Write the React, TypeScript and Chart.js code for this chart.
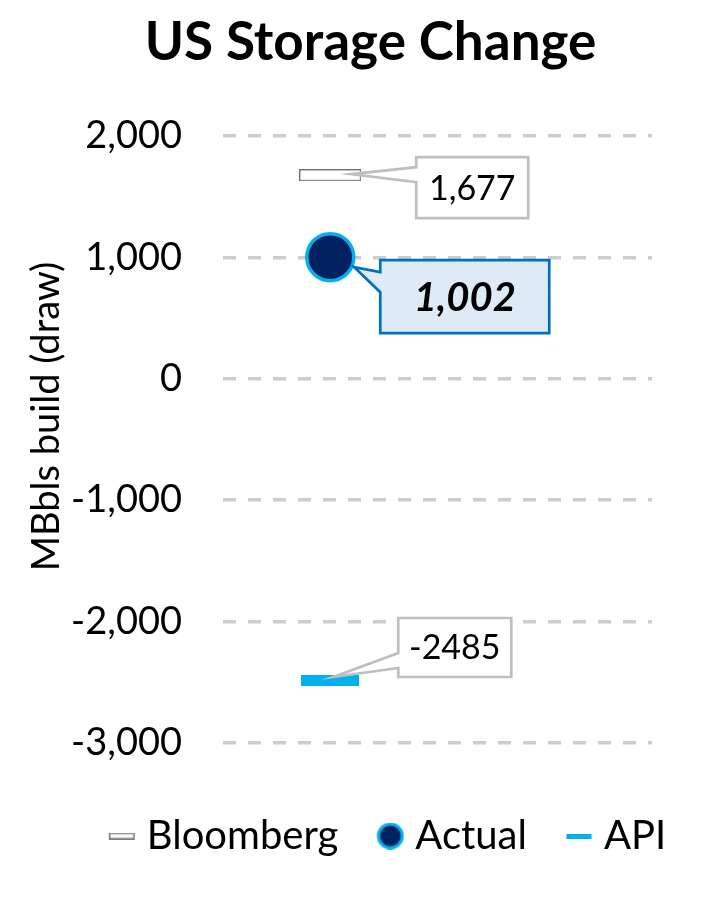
import React, { useEffect, useRef } from "react";
import { Chart, registerables } from "chart.js";

Chart.register(...registerables);

const categories = ["", ""];
const seriesNames = ["Bloomberg", "Actual", "API"];
const bloombergValues = [1677, null];
const actualValues = [1002, null];
const apiValues = [-2485, null];
const calloutLabels = ["1,677", "1,002", "-2485"];
const chartTitle = "US Storage Change";
const yAxisTitle = "MBbls build (draw)";
const yTickMin = -3000;
const yTickMax = 2000;
const yTickStep = 1000;

const FONT = "Lato";

function makeRectIcon(w: number, h: number, fill: string, stroke: string | null, lw: number, canvasW = w, cx = w / 2) {
  const c = document.createElement("canvas");
  c.width = canvasW;
  c.height = h;
  const ctx = c.getContext("2d")!;
  const x0 = cx - w / 2;
  ctx.fillStyle = fill;
  ctx.fillRect(x0, 0, w, h);
  if (stroke) {
    ctx.strokeStyle = stroke;
    ctx.lineWidth = lw;
    ctx.strokeRect(x0 + lw / 2, lw / 2, w - lw, h - lw);
  }
  return c;
}

function makeCircleIcon(d: number, fill: string, stroke: string, lw: number, canvasW = d, cx = d / 2) {
  const c = document.createElement("canvas");
  c.width = canvasW;
  c.height = d;
  const ctx = c.getContext("2d")!;
  ctx.beginPath();
  ctx.arc(cx, d / 2, d / 2 - lw / 2, 0, Math.PI * 2);
  ctx.fillStyle = fill;
  ctx.fill();
  ctx.lineWidth = lw;
  ctx.strokeStyle = stroke;
  ctx.stroke();
  return c;
}

type Callout = {
  dx: number;
  dy: number;
  w: number;
  h: number;
  tipDx: number;
  tipDy: number;
  base1: number;
  base2: number;
  fill: string;
  stroke: string;
  lw: number;
  font: string;
};

const callouts: Callout[] = [
  { dx: 86, dy: -18, w: 112, h: 61, tipDx: 21, tipDy: -1, base1: 10, base2: 25, fill: "#FFFFFF", stroke: "#BFBFBF", lw: 2.7, font: `34px ${FONT}` },
  { dx: 50, dy: 3, w: 169, h: 73, tipDx: 24, tipDy: 10, base1: 12, base2: 32, fill: "#DEEBF7", stroke: "#0070C0", lw: 2.7, font: `italic bold 40px ${FONT}` },
  { dx: 68, dy: -62.5, w: 113, h: 59, tipDx: 3, tipDy: -3.5, base1: 35, base2: 50, fill: "#FFFFFF", stroke: "#BFBFBF", lw: 2.7, font: `34px ${FONT}` },
];

const calloutPlugin = {
  id: "callouts",
  afterDatasetsDraw(chart: any) {
    const ctx = chart.ctx as CanvasRenderingContext2D;
    callouts.forEach((co, i) => {
      const meta = chart.getDatasetMeta(i);
      const pt = meta.data[0];
      if (!pt) return;
      const L = pt.x + co.dx;
      const T = pt.y + co.dy;
      const tx = pt.x + co.tipDx;
      const ty = pt.y + co.tipDy;
      ctx.save();
      ctx.beginPath();
      ctx.moveTo(L, T);
      ctx.lineTo(L + co.w, T);
      ctx.lineTo(L + co.w, T + co.h);
      ctx.lineTo(L, T + co.h);
      ctx.lineTo(L, T + co.base2);
      ctx.lineTo(tx, ty);
      ctx.lineTo(L, T + co.base1);
      ctx.closePath();
      ctx.fillStyle = co.fill;
      ctx.fill();
      ctx.lineWidth = co.lw;
      ctx.strokeStyle = co.stroke;
      ctx.lineJoin = "miter";
      ctx.stroke();
      ctx.fillStyle = "#000000";
      ctx.font = co.font;
      ctx.textAlign = "center";
      ctx.textBaseline = "middle";
      ctx.fillText(calloutLabels[i], L + co.w / 2, T + co.h / 2 + 1);
      ctx.restore();
    });
  },
};

const yTitlePlugin = {
  id: "yTitle",
  afterDraw(chart: any) {
    const ctx = chart.ctx as CanvasRenderingContext2D;
    const area = chart.chartArea;
    ctx.save();
    ctx.translate(47, (area.top + area.bottom) / 2 - 23);
    ctx.rotate(-Math.PI / 2);
    ctx.font = `38px ${FONT}`;
    ctx.fillStyle = "#000000";
    ctx.textAlign = "center";
    ctx.textBaseline = "middle";
    ctx.fillText(yAxisTitle, 0, 0);
    ctx.restore();
  },
};

export default function App() {
  const ref = useRef<HTMLCanvasElement | null>(null);

  useEffect(() => {
    document.body.style.margin = "0";
    const canvas = ref.current!;
    const bbgPoint = makeRectIcon(62, 12, "#FFFFFF", "#6F6F6F", 1.2);
    const apiPoint = makeRectIcon(58, 11, "#00B0F0", null, 0);
    const legendIcons = [
      makeRectIcon(26, 7, "#FFFFFF", "#7F7F7F", 1.6, 70, 56),
      makeCircleIcon(27, "#002060", "#00B0F0", 3.2, 70, 56),
      makeRectIcon(25, 5, "#00B0F0", null, 0, 70, 56),
    ];

    const chart = new Chart(canvas, {
      type: "line",
      data: {
        labels: categories,
        datasets: [
          {
            label: seriesNames[0],
            data: bloombergValues,
            showLine: false,
            pointStyle: bbgPoint as any,
            pointRadius: 10,
            backgroundColor: "#FFFFFF",
            borderColor: "#7F7F7F",
          },
          {
            label: seriesNames[1],
            data: actualValues,
            showLine: false,
            pointStyle: "circle",
            pointRadius: 23.5,
            pointBorderWidth: 3.5,
            pointBackgroundColor: "#002060",
            pointBorderColor: "#00B0F0",
            backgroundColor: "#002060",
            borderColor: "#00B0F0",
          },
          {
            label: seriesNames[2],
            data: apiValues,
            showLine: false,
            pointStyle: apiPoint as any,
            pointRadius: 10,
            backgroundColor: "#00B0F0",
            borderColor: "#00B0F0",
          },
        ],
      },
      options: {
        responsive: false,
        animation: false,
        events: [],
        layout: { padding: { left: 36, right: 0, top: 0, bottom: 46 } },
        plugins: {
          title: {
            display: true,
            text: chartTitle,
            color: "#000000",
            font: { family: FONT, size: 53, weight: "bold" },
            padding: { top: 11, bottom: 61.4 },
          },
          legend: {
            display: true,
            position: "bottom",
            labels: {
              usePointStyle: true,
              pointStyleWidth: 52,
              color: "#000000",
              font: { family: FONT, size: 40 },
              padding: 5,
              generateLabels(chart: any) {
                const items = Chart.defaults.plugins.legend.labels.generateLabels(chart);
                return items.map((it: any, i: number) => ({ ...it, pointStyle: legendIcons[i] }));
              },
            },
          },
          tooltip: { enabled: false },
        },
        scales: {
          x: {
            offset: true,
            grid: { display: false, drawTicks: false },
            border: { display: false },
            ticks: { display: false },
            afterFit(scale: any) {
              scale.height = 68;
            },
          },
          y: {
            min: yTickMin,
            max: yTickMax,
            grid: {
              color: "#CDCDCD",
              lineWidth: 3.5,
              drawTicks: false,
            },
            border: { display: false, dash: [13, 12] },
            ticks: {
              stepSize: yTickStep,
              color: "#000000",
              font: { family: FONT, size: 38 },
              padding: 41,
              callback: (v: any) => Number(v).toLocaleString("en-US"),
            },
            title: { display: false, text: yAxisTitle },
            afterFit(scale: any) {
              scale.width = 223 - 36;
            },
          },
          yRight: {
            position: "right",
            display: true,
            grid: { display: false, drawTicks: false },
            border: { display: false },
            ticks: { display: false },
            afterFit(scale: any) {
              scale.width = 53;
            },
          },
        },
      } as any,
      plugins: [calloutPlugin, yTitlePlugin],
    });

    return () => chart.destroy();
  }, []);

  return (
    <div style={{ width: 705, height: 912 }}>
      <canvas ref={ref} width={705} height={912} style={{ display: "block" }} />
    </div>
  );
}
